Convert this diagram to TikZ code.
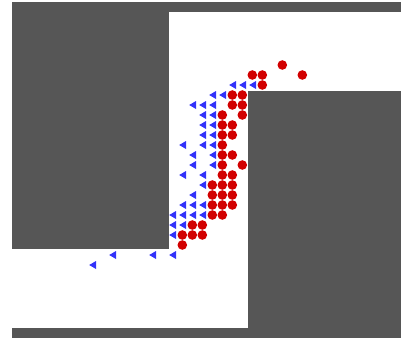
\documentclass[tikz,border=0pt]{standalone}
\usepackage{tikz}
\usetikzlibrary{calc}

\definecolor{wallgray}{RGB}{86,86,86}
\definecolor{agentred}{RGB}{210,0,0}
\definecolor{agentblue}{RGB}{50,50,250}

\tikzset{
  wall/.style={fill=wallgray},
  redagent/.style={fill=agentred},
  blueagent/.style={fill=agentblue}
}

\begin{document}
\begin{tikzpicture}[x=1pt,y=-1pt]

\useasboundingbox (0,0) rectangle (401,338);

\def\R{4.8}   % radius of red agents

% ---- Walls ----
\fill[wall] (12,2)   rectangle (401,12);   % top band
\fill[wall] (12,2)   rectangle (169,249);  % left block
\fill[wall] (248,91) rectangle (401,338);  % right block
\fill[wall] (12,328) rectangle (401,338);  % bottom band

% ---- Red agents (moving right) ----
\foreach \x/\y in {282/65,
    252/75, 262/75, 302/75,
    262/85,
    232/95, 242/95,
    232/105, 242/105,
    222/115, 242/115,
    222/125, 232/125,
    222/135, 232/135,
    222/145,
    222/155, 232/155,
    222/165, 242/165,
    222/175, 232/175,
    212/185, 222/185, 232/185,
    212/195, 222/195, 232/195,
    212/205, 222/205, 232/205,
    212/215, 222/215,
    192/225, 202/225,
    182/235, 192/235, 202/235,
    182/245}{
    \fill[redagent] (\x+0.3,\y) circle[radius=\R];
}

% ---- Blue agents (moving left) ----
\foreach \x/\y in {232/85, 242/85, 252/85,
    212/95, 222/95,
    192/105, 202/105, 212/105,
    202/115, 212/115,
    202/125, 212/125,
    202/135, 212/135,
    182/145, 202/145, 212/145,
    192/155, 212/155,
    192/165, 212/165,
    182/175, 202/175,
    202/185,
    192/195,
    182/205, 192/205, 202/205,
    172/215, 182/215, 192/215, 202/215,
    172/225, 182/225,
    172/235,
    112/255, 152/255, 172/255,
    92/265}{
    \fill[blueagent] (\x-2.8,\y) -- (\x+4,\y-4) -- (\x+4,\y+4) -- cycle;
}

\end{tikzpicture}
\end{document}
